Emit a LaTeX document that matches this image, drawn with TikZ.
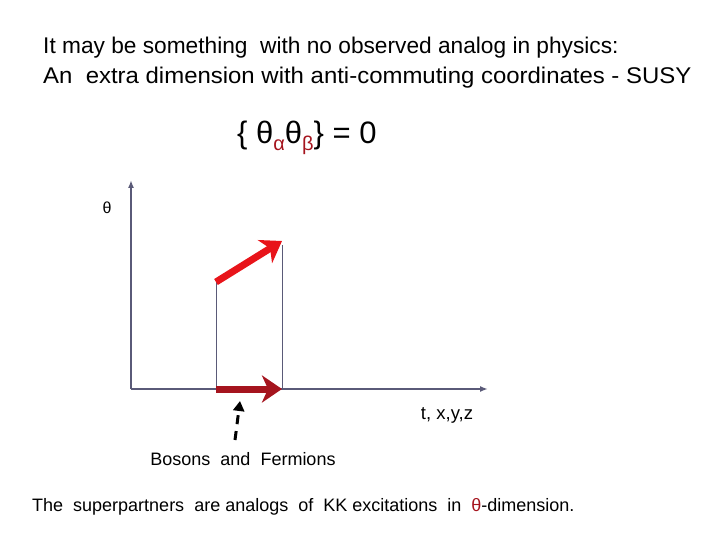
\documentclass[tikz,border=0pt]{standalone}
\usepackage{fontspec}
\setmainfont{Liberation Sans}
\usetikzlibrary{arrows.meta}
\definecolor{axisgray}{RGB}{90,90,120}
\definecolor{brightred}{RGB}{232,20,26}
\definecolor{darkred}{RGB}{165,20,30}

\begin{document}
\begin{tikzpicture} [x=1pt,y=-1pt,
			axis/.style={axisgray,line width=2pt,-{Latex[length=8pt,width=6pt]}},
			guide/.style={axisgray,line width=0.6pt},
			vector/.style={line width=7pt,-{Stealth[length=20pt,width=27pt,inset=6pt]}},
			txt/.style={inner sep=0pt,anchor=west},
			lab/.style={inner sep=0pt}]
			\useasboundingbox (0,0) rectangle (720,540);
			\node[txt,font=\fontsize{22.7}{26}\selectfont] (line1) at (43,48) {It may be something\ \ with no observed analog in physics:};
			\node[txt,font=\fontsize{22.7}{26}\selectfont] (line2) at (43,78) {\scalebox{1.055}[1]{An\ \ extra dimension with anti-commuting coordinates - SUSY}};
			\node[txt,font=\fontsize{31}{34}\selectfont] (anti) at (237,138) {\{ θ\textcolor{darkred}{\raisebox{-7pt}{\fontsize{20}{22}\selectfont α}}θ\textcolor{darkred}{\raisebox{-7pt}{\fontsize{20}{22}\selectfont β}}\} = 0};

			\coordinate (o) at (131,389);
			\coordinate (ytip) at (131,180);
			\coordinate (xtip) at (488,389);
			\draw[axis] (o) -- (ytip);
			\draw[axis] (o) -- (xtip);
			\node[lab,font=\fontsize{16}{18}\selectfont] (theta) at (107,208) {θ};
			\node[lab,font=\fontsize{18.5}{20}\selectfont] (coords) at (447,415) {t, x,y,z};

			\coordinate (b0) at (216,389);
			\coordinate (b1) at (282,389);
			\coordinate (f0) at (216,282);
			\coordinate (f1) at (282,241);
			\draw[guide] (b0) -- (f0);
			\draw[guide] (b1) -- (282,245);
			\draw[vector,brightred] (f0) -- (f1);
			\draw[vector,darkred] (b0) -- (b1);

			\node[lab,font=\fontsize{18}{20}\selectfont] (bf) at (243,459) {Bosons\ \ and\ \ Fermions};
			\coordinate (ptail) at (235,440);
			\coordinate (phead) at (240,401);
			\draw[line width=3pt,dash pattern=on 9pt off 7pt,-{Triangle[length=10pt,width=11pt]}] (ptail) -- (phead);

			\node[txt,font=\fontsize{18}{20}\selectfont] (note) at (32,507) {The\ \ superpartners\ \ are analogs\ \ of\ \ KK excitations\ \ in\ \ \textcolor{darkred}{θ}-dimension.};
		\end{tikzpicture}
\end{document}
